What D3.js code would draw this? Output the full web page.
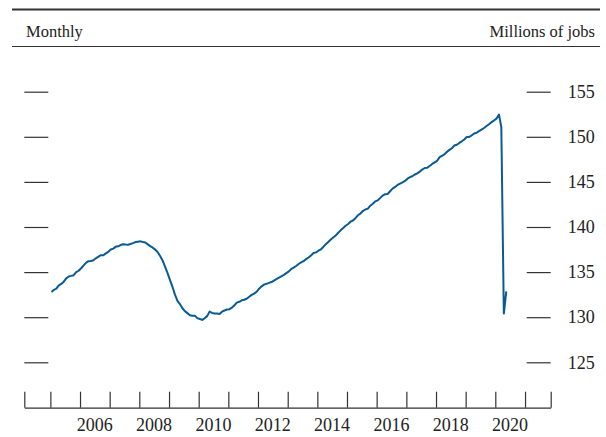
<!DOCTYPE html>
<html><head><meta charset="utf-8">
<script src="https://cdn.jsdelivr.net/npm/d3@7"></script>
<style>
html,body{margin:0;padding:0;background:#fff;}
text{font-family:"Liberation Serif","Times New Roman",serif;fill:#222;}
</style></head>
<body><svg id="c" width="606" height="437"></svg>
<script>
const startYear = 2005;
const jobs2005 = [132.80,133.04,133.16,133.52,133.69,133.94,134.31,134.51,134.58,134.66,134.99,135.15];
const jobs2006 = [135.43,135.75,136.03,136.21,136.24,136.32,136.53,136.71,136.87,136.87,137.08,137.25];
const jobs2007 = [137.50,137.60,137.80,137.86,138.00,138.09,138.06,138.04,138.12,138.21,138.33,138.37];
const jobs2008 = [138.41,138.33,138.28,138.07,137.88,137.71,137.49,137.20,136.75,136.27,135.56,134.85];
const jobs2009 = [134.06,133.30,132.50,131.80,131.46,130.99,130.67,130.45,130.22,130.16,130.17,129.90];
const jobs2010 = [129.80,129.70,129.89,130.12,130.62,130.47,130.41,130.41,130.35,130.61,130.74,130.85];
const jobs2011 = [130.89,131.07,131.30,131.62,131.71,131.87,131.94,132.05,132.27,132.47,132.61,132.82];
const jobs2012 = [133.16,133.42,133.61,133.70,133.81,133.90,134.06,134.22,134.38,134.53,134.69,134.88];
const jobs2013 = [135.08,135.35,135.49,135.68,135.90,136.07,136.21,136.44,136.62,136.85,137.12,137.19];
const jobs2014 = [137.37,137.53,137.79,138.10,138.34,138.61,138.84,139.05,139.36,139.63,139.88,140.14];
const jobs2015 = [140.33,140.60,140.72,140.98,141.30,141.49,141.77,141.94,142.04,142.36,142.57,142.84];
const jobs2016 = [142.96,143.23,143.48,143.64,143.66,143.96,144.26,144.44,144.66,144.80,144.95,145.10];
const jobs2017 = [145.36,145.53,145.62,145.82,145.95,146.14,146.37,146.54,146.56,146.77,146.99,147.17];
const jobs2018 = [147.34,147.74,147.89,148.06,148.33,148.55,148.73,149.03,149.12,149.32,149.50,149.71];
const jobs2019 = [149.98,149.98,150.15,150.36,150.45,150.63,150.79,150.98,151.19,151.39,151.62,151.80];
const jobs2020 = [152.01,152.46,151.09,130.40,132.86];
const yTickValues = [125,130,135,140,145,150,155];
const xLabelYears = [2006,2008,2010,2012,2014,2016,2018,2020];
const xTickYears = d3.range(2005, 2022);

const allYears = [jobs2005,jobs2006,jobs2007,jobs2008,jobs2009,jobs2010,jobs2011,jobs2012,jobs2013,jobs2014,jobs2015,jobs2016,jobs2017,jobs2018,jobs2019,jobs2020];
const data = [];
allYears.forEach((arr,i)=>arr.forEach((v,m)=>data.push({date:new Date(startYear+i,m,15), value:v})));

const svg = d3.select("#c");
const dark = "#333";

const x = d3.scaleTime()
  .domain([new Date(2004,1,15), new Date(2021,10,13)])
  .range([24.3, 550.7]);
const y = d3.scaleLinear().domain([125,155]).range([362.3, 91.7]);

// header rules
svg.append("line").attr("x1",12).attr("x2",600).attr("y1",9.5).attr("y2",9.5)
  .attr("stroke",dark).attr("stroke-width",2.2);
svg.append("line").attr("x1",12).attr("x2",600).attr("y1",46.5).attr("y2",46.5)
  .attr("stroke",dark).attr("stroke-width",1);
svg.append("text").attr("x",26).attr("y",37).attr("font-size",16.5).text("Monthly");
svg.append("text").attr("x",595).attr("y",37).attr("font-size",16.5)
  .attr("text-anchor","end").text("Millions of jobs");

// y ticks (left and right) via axis generators
const [x0, x1] = x.range();
const leftAxis = d3.axisRight(y).tickValues(yTickValues).tickSize(24).tickFormat("");
svg.append("g").attr("transform",`translate(${x0},0)`).call(leftAxis)
  .call(g=>g.select(".domain").remove())
  .call(g=>g.selectAll("line").attr("stroke",dark).attr("stroke-width",1.2));
const rightAxis = d3.axisLeft(y).tickValues(yTickValues).tickSize(24).tickPadding(17)
  .tickFormat(d3.format("d"));
svg.append("g").attr("transform",`translate(${x1},0)`).call(rightAxis)
  .call(g=>g.select(".domain").remove())
  .call(g=>g.selectAll("line").attr("stroke",dark).attr("stroke-width",1.2))
  .call(g=>g.selectAll("text").attr("text-anchor","start").attr("x",17)
    .attr("font-size",18).attr("font-family","Liberation Serif").attr("fill","#222"));

// x axis
const baseY = 407.7;
const xAxis = d3.axisTop(x)
  .tickValues([x.domain()[0], ...xTickYears.map(yy=>new Date(yy,0,1)), x.domain()[1]])
  .tickSize(16).tickSizeOuter(0).tickFormat("");
svg.append("g").attr("transform",`translate(0,${baseY})`).call(xAxis)
  .call(g=>g.select(".domain").attr("stroke",dark).attr("stroke-width",1.2))
  .call(g=>g.selectAll("line").attr("stroke",dark).attr("stroke-width",1.2));
svg.append("g").selectAll("text").data(xLabelYears).join("text")
  .attr("x",d=>x(new Date(d,6,1))).attr("y",430.5)
  .attr("text-anchor","middle").attr("font-size",18).text(d=>d);

// line
const line = d3.line().x(d=>x(d.date)).y(d=>y(d.value));
svg.append("path").datum(data).attr("d",line)
  .attr("fill","none").attr("stroke","#0a5a96").attr("stroke-width",2)
  .attr("stroke-linejoin","round");
</script></body></html>
